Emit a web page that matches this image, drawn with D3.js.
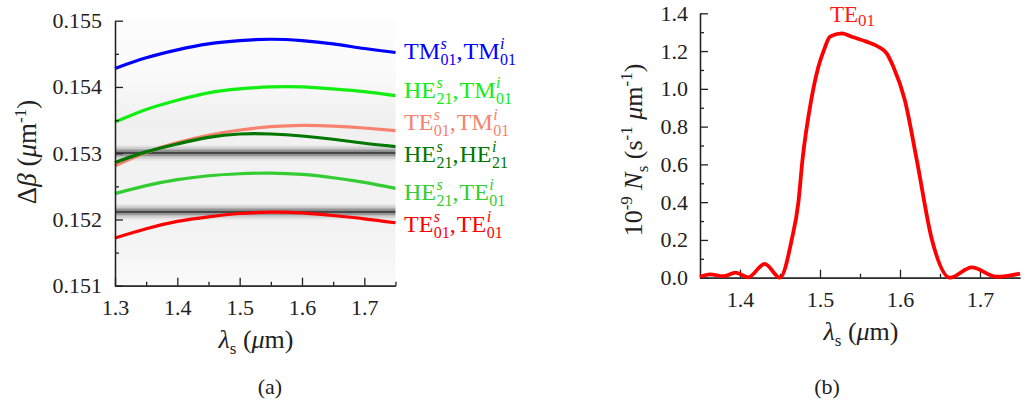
<!DOCTYPE html>
<html>
<head>
<meta charset="utf-8">
<script src="https://cdn.jsdelivr.net/npm/d3@7"></script>
<style>
  body { margin: 0; background: #fff; }
</style>
</head>
<body>
<svg id="main" width="1025" height="412"></svg>
<script>
// ---- panel (a) data ----
var lambdaA = [1.30, 1.35, 1.40, 1.45, 1.50, 1.55, 1.60, 1.65, 1.70, 1.75];
var tmTm = [0.15428, 0.15444, 0.15456, 0.15465, 0.15470, 0.15472, 0.15470, 0.15465, 0.15458, 0.15452];
var heTm = [0.15347, 0.15366, 0.15380, 0.15391, 0.15397, 0.15400, 0.15400, 0.15397, 0.15393, 0.15387];
var teTm = [0.15281, 0.15301, 0.15316, 0.15327, 0.15335, 0.15340, 0.15342, 0.15341, 0.15338, 0.15334];
var heHe = [0.15286, 0.15302, 0.15314, 0.15324, 0.15329, 0.15329, 0.15326, 0.15321, 0.15315, 0.15310];
var heTe = [0.15239, 0.15251, 0.15260, 0.15266, 0.15269, 0.15270, 0.15268, 0.15263, 0.15256, 0.15247];
var teTe = [0.15172, 0.15186, 0.15197, 0.15204, 0.15209, 0.15211, 0.15210, 0.15206, 0.15201, 0.15195];

var modeNames = [
  [['TM', 's', '01'], ['TM', 'i', '01']],
  [['HE', 's', '21'], ['TM', 'i', '01']],
  [['TE', 's', '01'], ['TM', 'i', '01']],
  [['HE', 's', '21'], ['HE', 'i', '21']],
  [['HE', 's', '21'], ['TE', 'i', '01']],
  [['TE', 's', '01'], ['TE', 'i', '01']]
];
var modeColors = ['#0000ff', '#11ee11', '#f7836f', '#007700', '#33cc33', '#ff0000'];

// phase-matching bands in the background
var bandCenters = [0.153005, 0.152115];
var bandProfile = [[-0.00010, 0.05], [-0.00007, 0.14], [-0.000035, 0.38], [0, 0.7],
                   [0.000035, 0.38], [0.00007, 0.14], [0.00010, 0.05]];
var hazeStops = [[0.1550, 0.01], [0.1542, 0.02], [0.1535, 0.06], [0.1527, 0.05], [0.1518, 0.05], [0.1510, 0.02]];

var ticksAx = [1.3, 1.4, 1.5, 1.6, 1.7];
var minorAx = [1.35, 1.45, 1.55, 1.65, 1.75];
var ticksAy = [0.151, 0.152, 0.153, 0.154, 0.155];
var minorAy = [0.1515, 0.1525, 0.1535, 0.1545];

// ---- panel (b) data ----
var lambdaB = [1.350, 1.3625, 1.379, 1.3946, 1.410, 1.431, 1.450, 1.4646, 1.473, 1.478, 1.489, 1.498,
               1.505, 1.5125, 1.527, 1.5417, 1.558, 1.573, 1.5833, 1.5917, 1.606, 1.621, 1.640,
               1.6625, 1.6896, 1.721, 1.750];
var nsB = [0.005, 0.018, 0.008, 0.027, 0.002, 0.073, 0.000, 0.20, 0.40, 0.62, 0.94, 1.117,
           1.206, 1.276, 1.294, 1.273, 1.250, 1.223, 1.188, 1.117, 0.941, 0.623, 0.20,
           0.000, 0.055, 0.005, 0.022];
var ticksBx = [1.4, 1.5, 1.6, 1.7];
var minorBx = [1.45, 1.55, 1.65];
var ticksBy = [0.0, 0.2, 0.4, 0.6, 0.8, 1.0, 1.2, 1.4];
var minorBy = [0.1, 0.3, 0.5, 0.7, 0.9, 1.1, 1.3];

var SERIF = '"Liberation Serif", "Times New Roman", Times, serif';
var svg = d3.select('#main');

// ---------------- panel (a) ----------------
var xA = d3.scaleLinear().domain([1.3, 1.75]).range([115, 395.5]);
var yA = d3.scaleLinear().domain([0.151, 0.155]).range([285.7, 20.7]);

var defs = svg.append('defs');
var grad = defs.append('linearGradient').attr('id', 'haze')
  .attr('x1', 0).attr('y1', 0).attr('x2', 0).attr('y2', 1);
grad.selectAll('stop').data(hazeStops).enter().append('stop')
  .attr('offset', function(d) { return (yA(d[0]) - yA(0.155)) / (yA(0.151) - yA(0.155)); })
  .attr('stop-color', '#000')
  .attr('stop-opacity', function(d) { return d[1]; });

var gA = svg.append('g');
gA.append('rect')
  .attr('x', xA(1.3)).attr('y', yA(0.155))
  .attr('width', xA(1.75) - xA(1.3)).attr('height', yA(0.151) - yA(0.155))
  .attr('fill', 'url(#haze)');

var bandRows = [];
bandCenters.forEach(function(c) {
  bandProfile.forEach(function(p) { bandRows.push({ v: c + p[0], a: p[1] }); });
});
var rowH = yA(0) - yA(0.000035);
gA.selectAll('rect.band').data(bandRows).enter().append('rect')
  .attr('class', 'band')
  .attr('x', xA(1.3)).attr('width', xA(1.75) - xA(1.3))
  .attr('y', function(d) { return yA(d.v) - rowH / 2; })
  .attr('height', rowH)
  .attr('fill', '#000')
  .attr('fill-opacity', function(d) { return d.a; });

var seriesA = [tmTm, heTm, teTm, heHe, heTe, teTe];
var lineA = d3.line()
  .x(function(d, i) { return xA(lambdaA[i]); })
  .y(function(d) { return yA(d); })
  .curve(d3.curveNatural);

gA.selectAll('path.mode').data(seriesA).enter().append('path')
  .attr('class', 'mode')
  .attr('d', lineA)
  .attr('fill', 'none')
  .attr('stroke', function(d, i) { return modeColors[i]; })
  .attr('stroke-width', 3.2);

function styleAxis(g) {
  g.attr('font-family', null).attr('font-size', null);
  g.selectAll('path, line').attr('stroke', '#222').attr('stroke-width', 1.3);
  g.selectAll('text').style('font-family', SERIF).style('font-size', '22px').attr('fill', '#222');
}

gA.append('g').attr('transform', 'translate(0,' + yA(0.151) + ')')
  .call(d3.axisBottom(xA).tickValues(ticksAx).tickFormat(d3.format('.1f'))
    .tickSize(-8).tickSizeOuter(0).tickPadding(14))
  .call(styleAxis);
gA.append('g').attr('transform', 'translate(0,' + yA(0.151) + ')')
  .call(d3.axisBottom(xA).tickValues(minorAx).tickFormat('').tickSize(-4).tickSizeOuter(0))
  .call(styleAxis);
gA.append('g').attr('transform', 'translate(' + xA(1.3) + ',0)')
  .call(d3.axisLeft(yA).tickValues(ticksAy).tickFormat(d3.format('.3f'))
    .tickSize(-8).tickSizeOuter(0).tickPadding(13))
  .call(styleAxis);
gA.append('g').attr('transform', 'translate(' + xA(1.3) + ',0)')
  .call(d3.axisLeft(yA).tickValues(minorAy).tickFormat('').tickSize(-4).tickSizeOuter(0))
  .call(styleAxis);

function txt(parent) {
  return parent.append('text').style('font-family', SERIF).attr('fill', '#222');
}

// mode labels with stacked super/subscripts
var labelX = 404;
var labelBase = [59, 98, 130, 162, 200, 232];
function modeLabel(parts, x, y, color) {
  var g = svg.append('g');
  parts.forEach(function(p, k) {
    if (k > 0) {
      var c = txt(g).attr('x', x).attr('y', y).style('font-size', '24px')
        .attr('fill', color).text(',');
      x += c.node().getComputedTextLength() + 1;
    }
    var m = txt(g).attr('x', x).attr('y', y).style('font-size', '24px')
      .attr('fill', color).text(p[0]);
    x += m.node().getComputedTextLength() + 0.5;
    var sup = txt(g).attr('x', x).attr('y', y - 10).style('font-size', '16px')
      .style('font-style', 'italic').attr('fill', color).text(p[1]);
    var sub = txt(g).attr('x', x).attr('y', y + 6).style('font-size', '16px')
      .attr('fill', color).text(p[2]);
    x += Math.max(sup.node().getComputedTextLength(), sub.node().getComputedTextLength());
  });
}
modeNames.forEach(function(p, i) { modeLabel(p, labelX, labelBase[i], modeColors[i]); });

// rich text helper: pieces [text, style] where style: it, sup, sub
function rich(sel, pieces) {
  var shift = 0;
  pieces.forEach(function(p) {
    var t = sel.append('tspan').text(p[0]);
    var st = p[1] || '';
    var target = 0;
    if (st === 'sup') { target = -10; t.style('font-size', '17px'); }
    if (st === 'sub') { target = 6; t.style('font-size', '17px'); }
    if (st === 'it') t.style('font-style', 'italic');
    t.attr('dy', target - shift);
    shift = target;
  });
}

var yTitleA = txt(svg).attr('text-anchor', 'middle')
  .attr('transform', 'translate(36,152) rotate(-90)').style('font-size', '27px');
rich(yTitleA, [['\u0394'], ['\u03b2', 'it'], [' ('], ['\u03bc', 'it'], ['m'], ['-1', 'sup'], [')']]);

var xTitleA = txt(svg).attr('text-anchor', 'middle')
  .attr('x', 256).attr('y', 348).style('font-size', '26px');
rich(xTitleA, [['\u03bb', 'it'], ['s', 'sub'], [' ('], ['\u03bc', 'it'], ['m)']]);

txt(svg).attr('x', 270).attr('y', 394).attr('text-anchor', 'middle')
  .style('font-size', '22px').text('(a)');

// ---------------- panel (b) ----------------
var xB = d3.scaleLinear().domain([1.35, 1.75]).range([700, 1020]);
var yB = d3.scaleLinear().domain([0, 1.4]).range([277.7, 13.3]);
var gB = svg.append('g');

gB.append('g').attr('transform', 'translate(0,' + yB(0) + ')')
  .call(d3.axisBottom(xB).tickValues(ticksBx).tickFormat(d3.format('.1f'))
    .tickSize(-8).tickSizeOuter(0).tickPadding(14))
  .call(styleAxis);
gB.append('g').attr('transform', 'translate(0,' + yB(0) + ')')
  .call(d3.axisBottom(xB).tickValues(minorBx).tickFormat('').tickSize(-4).tickSizeOuter(0))
  .call(styleAxis);
gB.append('g').attr('transform', 'translate(' + xB(1.35) + ',0)')
  .call(d3.axisLeft(yB).tickValues(ticksBy).tickFormat(d3.format('.1f'))
    .tickSize(-8).tickSizeOuter(0).tickPadding(12))
  .call(styleAxis);
gB.append('g').attr('transform', 'translate(' + xB(1.35) + ',0)')
  .call(d3.axisLeft(yB).tickValues(minorBy).tickFormat('').tickSize(-4).tickSizeOuter(0))
  .call(styleAxis);

var lineB = d3.line()
  .x(function(d, i) { return xB(lambdaB[i]); })
  .y(function(d) { return yB(d); })
  .curve(d3.curveMonotoneX);
gB.append('path').datum(nsB)
  .attr('d', lineB)
  .attr('fill', 'none')
  .attr('stroke', '#ff0000')
  .attr('stroke-width', 3.8)
  .attr('stroke-linejoin', 'round');

var peakLabel = txt(svg).attr('x', 830).attr('y', 22)
  .style('font-size', '23px').attr('fill', '#ff1a1a');
peakLabel.append('tspan').attr('fill', '#ff1a1a').text('TE');
peakLabel.append('tspan').attr('fill', '#ff1a1a').attr('dy', 4).style('font-size', '17px').text('01');

var yTitleB = txt(svg).attr('text-anchor', 'middle')
  .attr('transform', 'translate(642,150) rotate(-90)').style('font-size', '26px');
rich(yTitleB, [['10'], ['-9', 'sup'], [' '], ['N', 'it'], ['s', 'sub'], [' (s'], ['-1', 'sup'], [' '],
  ['\u03bc', 'it'], ['m'], ['-1', 'sup'], [')']]);

var xTitleB = txt(svg).attr('text-anchor', 'middle')
  .attr('x', 861).attr('y', 340).style('font-size', '26px');
rich(xTitleB, [['\u03bb', 'it'], ['s', 'sub'], [' ('], ['\u03bc', 'it'], ['m)']]);

txt(svg).attr('x', 827).attr('y', 394).attr('text-anchor', 'middle')
  .style('font-size', '22px').text('(b)');
</script>
</body>
</html>
